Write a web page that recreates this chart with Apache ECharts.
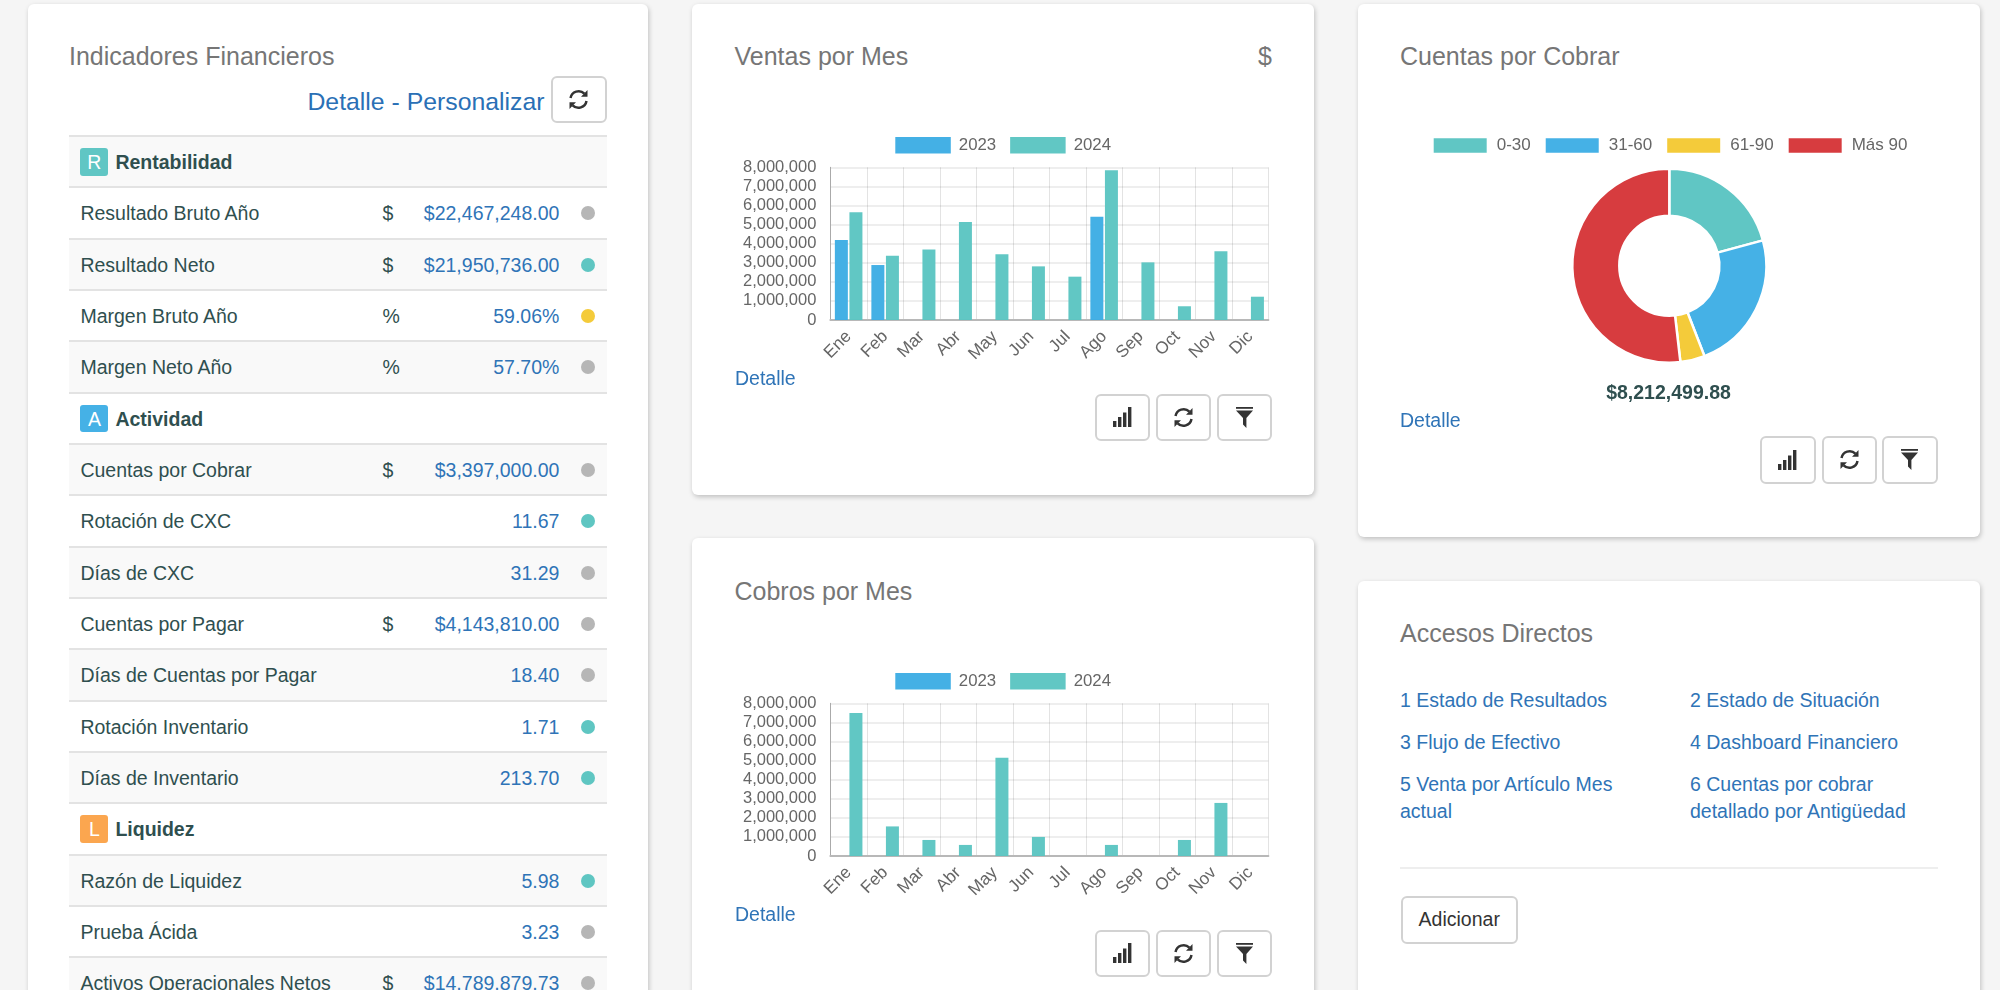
<!DOCTYPE html>
<html>
<head>
<meta charset="utf-8">
<script src="https://cdn.jsdelivr.net/npm/echarts@6/dist/echarts.min.js"></script>
<style>
html, body { margin: 0; padding: 0; width: 2000px; height: 990px; overflow: hidden; background: #f5f5f5;
  font-family: "Liberation Sans", Arial, sans-serif; font-size: 19.5px; color: #2f4f4f; }
.panel { position: absolute; background: #fff; border-radius: 6px; box-shadow: 1px 2px 5px rgba(0,0,0,.22); }
.abs { position: absolute; white-space: nowrap; }
.title { font-size: 25px; color: #767676; line-height: 30px; }
.link { color: #2f74b7; }
.btn { position: absolute; box-sizing: border-box; background: #fff; border: 2px solid #d2d2d2; border-radius: 6px;
  display: flex; align-items: center; justify-content: center; color: #333; }
.row { position: absolute; left: 69.4px; width: 537.5px; height: 51.33px; box-sizing: border-box; border-top: 2px solid #e3e3e3; }
.row.odd { background: #f9f9f9; }
.row > div { position: absolute; top: 0; line-height: 50px; white-space: nowrap; }
.badge { left: 11px; width: 28px; height: 27.5px; margin-top: 11px; line-height: 28px !important; border-radius: 3px; color: #fff; text-align: center; }
.dot { left: 512px; width: 14px; height: 14px; border-radius: 50%; margin-top: 18px; }
</style>
</head>
<body>
<div id="root"></div>
<script>
const meses = ['Ene', 'Feb', 'Mar', 'Abr', 'May', 'Jun', 'Jul', 'Ago', 'Sep', 'Oct', 'Nov', 'Dic'];
const anios = ['2023', '2024'];
const ventas2023 = [4190000, 2880000, 0, 0, 0, 0, 0, 5410000, 0, 0, 0, 0];
const ventas2024 = [5640000, 3370000, 3700000, 5140000, 3440000, 2810000, 2270000, 7840000, 3020000, 720000, 3600000, 1220000];
const cobros2023 = [0, 0, 0, 0, 0, 0, 0, 0, 0, 0, 0, 0];
const cobros2024 = [7490000, 1550000, 840000, 580000, 5150000, 1000000, 0, 580000, 0, 840000, 2780000, 0];
const rangosCxc = ['0-30', '31-60', '61-90', 'Más 90'];
const saldosCxc = [1708000, 1913000, 335000, 4256000];
const totalCxc = '$8,212,499.88';

// label, unit, value, dot
const indicadores = [
  ['R', 'Rentabilidad', '#60c6c4'],
  ['Resultado Bruto Año', '$', '$22,467,248.00', 'g'],
  ['Resultado Neto', '$', '$21,950,736.00', 't'],
  ['Margen Bruto Año', '%', '59.06%', 'y'],
  ['Margen Neto Año', '%', '57.70%', 'g'],
  ['A', 'Actividad', '#45b1e6'],
  ['Cuentas por Cobrar', '$', '$3,397,000.00', 'g'],
  ['Rotación de CXC', '', '11.67', 't'],
  ['Días de CXC', '', '31.29', 'g'],
  ['Cuentas por Pagar', '$', '$4,143,810.00', 'g'],
  ['Días de Cuentas por Pagar', '', '18.40', 'g'],
  ['Rotación Inventario', '', '1.71', 't'],
  ['Días de Inventario', '', '213.70', 't'],
  ['L', 'Liquidez', '#fba64f'],
  ['Razón de Liquidez', '', '5.98', 't'],
  ['Prueba Ácida', '', '3.23', 'g'],
  ['Activos Operacionales Netos', '$', '$14,789,879.73', 'g']
];
const dotColors = {g: '#b6b6b6', t: '#5fc6c2', y: '#f4cb3a'};
const accesos = [
  ['1 Estado de Resultados', 1400, 700], ['2 Estado de Situación', 1690, 700],
  ['3 Flujo de Efectivo', 1400, 742], ['4 Dashboard Financiero', 1690, 742],
  ['5 Venta por Artículo Mes', 1400, 783.5], ['6 Cuentas por cobrar', 1690, 783.5],
  ['actual', 1400, 811.3], ['detallado por Antigüedad', 1690, 811.3]
];

const iconBars = '<svg width="19" height="20" viewBox="0 0 19 20" fill="#333"><rect x="0" y="14" width="3.4" height="6"/><rect x="5" y="10" width="3.4" height="10"/><rect x="10" y="5.5" width="3.4" height="14.5"/><rect x="15" y="0" width="3.4" height="20"/></svg>';
const iconRefresh = '<svg width="21" height="21" viewBox="0 0 20 20" fill="none" stroke="#333" stroke-width="2.4"><path d="M2.4 8.6 A7.8 7.8 0 0 1 15.6 4.4"/><path d="M17.6 11.4 A7.8 7.8 0 0 1 4.4 15.6"/><path d="M18.6 1 V7.4 H12.4 Z" fill="#333" stroke="none"/><path d="M1.4 19 V12.6 H7.6 Z" fill="#333" stroke="none"/></svg>';
const iconFilter = '<svg width="17" height="21" viewBox="0 0 17 21" fill="#333"><rect x="0" y="0" width="17" height="1.8"/><path d="M0 3.6 H17 L10.4 11 V21 L7 17.5 V11 Z"/></svg>';

const root = document.getElementById('root');
function add(html) { root.insertAdjacentHTML('beforeend', html); }
function panel(x, y, w, h) { add(`<div class="panel" style="left:${x}px;top:${y}px;width:${w}px;height:${h}px"></div>`); }
function text(str, x, cy, cls, extra) {
  add(`<div class="abs ${cls || ''}" style="left:${x}px;top:${cy - 15}px;line-height:30px;${extra || ''}">${str}</div>`);
}
function btn(x1, x2, y1, y2, inner) {
  add(`<div class="btn" style="left:${x1}px;top:${y1}px;width:${x2 - x1}px;height:${y2 - y1}px">${inner}</div>`);
}
function toolBtns(xs, y1, y2) {
  [iconBars, iconRefresh, iconFilter].forEach((ic, i) => btn(xs[i][0], xs[i][1], y1, y2, ic));
}

panel(28, 4, 620, 1100);
panel(692, 4, 622, 491);
panel(692, 538, 622, 600);
panel(1358, 4, 622, 533);
panel(1358, 581, 622, 500);

// Indicadores
text('Indicadores Financieros', 69, 55.5, 'title');
add(`<div class="abs" style="right:${2000 - 544.5}px;top:87px;line-height:30px;font-size:24.8px;color:#2a70b6">Detalle - Personalizar</div>`);
btn(551, 606.5, 75.5, 123, iconRefresh);
indicadores.forEach((r, i) => {
  const top = 135 + i * 51.33;
  const odd = i % 2 === 0 ? 'odd' : '';
  if (r.length === 3) {
    add(`<div class="row ${odd}" style="top:${top}px"><div class="badge" style="background:${r[2]}">${r[0]}</div><div style="left:46px;font-weight:bold">${r[1]}</div></div>`);
  } else {
    add(`<div class="row ${odd}" style="top:${top}px"><div style="left:11px">${r[0]}</div><div style="left:313px">${r[1]}</div><div style="right:47.5px;color:#2f74b7">${r[2]}</div><div class="dot" style="background:${dotColors[r[3]]}"></div></div>`);
  }
});

// Ventas
text('Ventas por Mes', 734.5, 55.5, 'title');
text('$', 1258, 55.5, 'title');
add('<div id="ventas" class="abs" style="left:692px;top:100px;width:622px;height:290px"></div>');
text('Detalle', 735, 378, 'link');
toolBtns([[1094.5, 1149.5], [1156, 1211], [1217, 1272]], 393.5, 441);

// Cobros
text('Cobros por Mes', 734.5, 590.7, 'title');
add('<div id="cobros" class="abs" style="left:692px;top:636px;width:622px;height:290px"></div>');
text('Detalle', 735, 914, 'link');
toolBtns([[1094.5, 1149.5], [1156, 1211], [1217, 1272]], 929.5, 977);

// Cuentas por cobrar
text('Cuentas por Cobrar', 1400, 55.9, 'title');
add('<div id="cxc" class="abs" style="left:1358px;top:120px;width:622px;height:260px"></div>');
add(`<div class="abs" style="left:1358px;width:621px;top:377px;line-height:30px;text-align:center;font-weight:bold">${totalCxc}</div>`);
text('Detalle', 1400, 420, 'link');
toolBtns([[1760, 1815.5], [1821.5, 1877], [1882, 1937.5]], 435.5, 483.5);

// Accesos
text('Accesos Directos', 1400, 633, 'title');
accesos.forEach(a => text(a[0], a[1], a[2], 'link'));
add('<div class="abs" style="left:1400px;top:866.7px;width:537.5px;height:2px;background:#eeeeee"></div>');
btn(1400.5, 1518, 896, 943.5, '<span style="color:#333">Adicionar</span>');

function barOption(values2023, values2024) {
  return {
    animation: false,
    legend: {
      left: 203.3, top: 36.7, padding: 0, itemWidth: 55.5, itemHeight: 16.6, itemGap: 14, icon: 'rect',
      textStyle: {color: '#666', fontSize: 16.8, fontFamily: 'Liberation Sans', padding: [0, 0, 0, 3]},
      data: anios
    },
    grid: {left: 138.4, top: 67.3, width: 438, height: 152.7, outerBoundsMode: 'none'},
    xAxis: {
      type: 'category', data: meses,
      axisLine: {lineStyle: {color: '#b8b8b8', width: 2}},
      axisTick: {length: 13, lineStyle: {color: '#dcdcdc'}},
      splitLine: {show: true, lineStyle: {color: 'rgba(0,0,0,0.11)'}},
      axisLabel: {rotate: 45, margin: 14, padding: [3, 0, 0, 0], interval: 0, color: '#666', fontSize: 17.2, fontFamily: 'Liberation Sans'}
    },
    yAxis: {
      type: 'value', min: 0, max: 8000000, interval: 1000000,
      axisLine: {show: true, lineStyle: {color: '#aaaaaa'}},
      axisTick: {show: false},
      splitLine: {lineStyle: {color: 'rgba(0,0,0,0.09)', width: 1.5}},
      axisLabel: {margin: 14, color: '#666', fontSize: 16.5, fontFamily: 'Liberation Sans',
        formatter: v => v.toLocaleString('en-US')}
    },
    series: [
      {name: anios[0], type: 'bar', data: values2023, barWidth: 13, barGap: '12%', itemStyle: {color: 'rgba(58,172,228,0.95)'}},
      {name: anios[1], type: 'bar', data: values2024, barWidth: 13, itemStyle: {color: 'rgba(88,196,193,0.95)'}}
    ]
  };
}

echarts.init(document.getElementById('ventas')).setOption(barOption(ventas2023, ventas2024));
echarts.init(document.getElementById('cobros')).setOption(barOption(cobros2023, cobros2024));

const cxcColors = ['#60c6c4', '#45b1e6', '#f4cb3a', '#d73c3f'];
echarts.init(document.getElementById('cxc')).setOption({
  animation: false,
  legend: {
    left: 75.7, top: 17, padding: 0, itemWidth: 53, itemHeight: 14.5, itemGap: 15, icon: 'rect',
    textStyle: {color: '#666', fontSize: 17, fontFamily: 'Liberation Sans', padding: [0, 0, 0, 5]},
    itemStyle: {borderWidth: 0},
    data: rangosCxc
  },
  series: [{
    type: 'pie', center: [311.3, 145.7], radius: [50, 97], startAngle: 90, clockwise: true,
    label: {show: false}, labelLine: {show: false},
    itemStyle: {borderColor: '#fff', borderWidth: 2.5},
    data: rangosCxc.map((name, i) => ({name, value: saldosCxc[i], itemStyle: {color: cxcColors[i]}}))
  }]
});
</script>
</body>
</html>
